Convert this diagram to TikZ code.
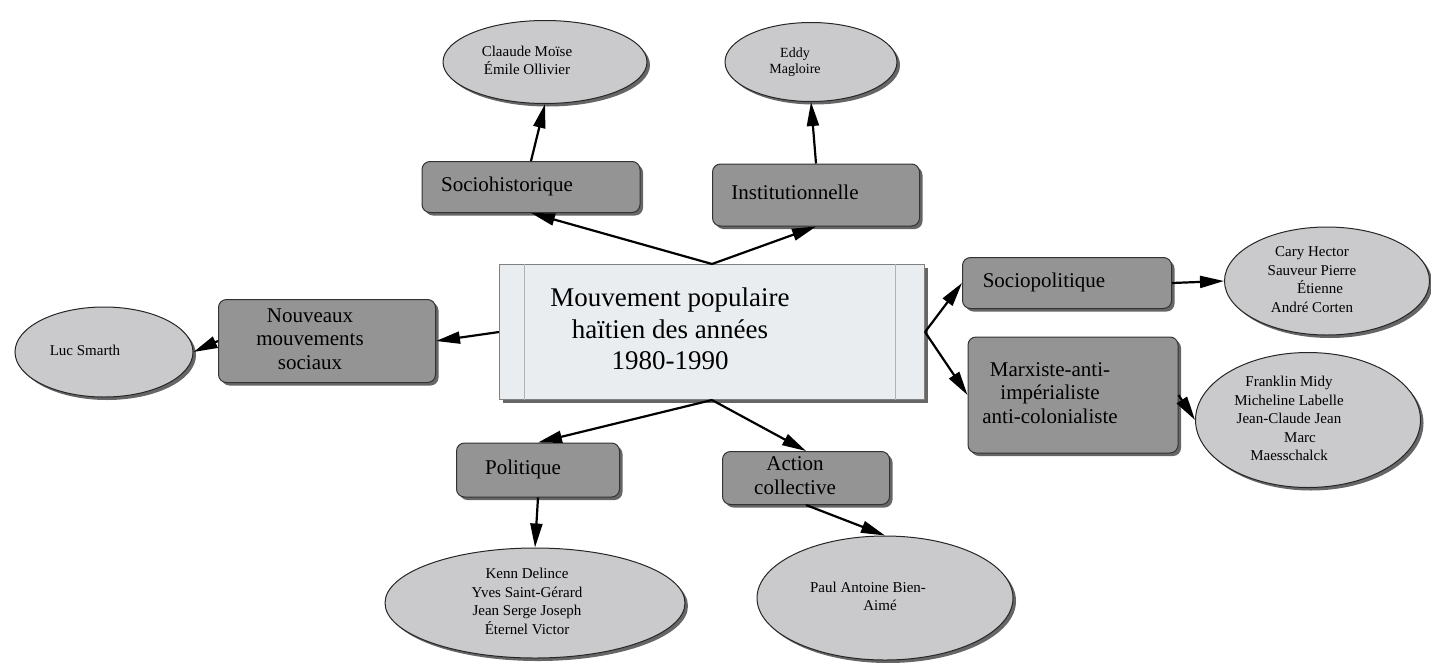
\documentclass[tikz,border=0pt]{standalone}
\usepackage{fontspec}
\setmainfont{Liberation Serif}
\usetikzlibrary{shapes.geometric,shadows,arrows.meta,calc}
\definecolor{boxgray}{RGB}{148,148,148}
\definecolor{ellgray}{RGB}{202,202,204}
\definecolor{centerfill}{RGB}{233,237,240}
\newcommand{\txl}[2]{\begin{tabular}{@{}c@{}}#2\end{tabular}\hspace*{#1}}
\begin{document}
\begin{tikzpicture}[x=1pt,y=-1pt,
  shad/.style={drop shadow={shadow xshift=3pt,shadow yshift=-3pt,fill=black!60,opacity=1}},
  catbox/.style={rectangle,rounded corners=8pt,draw=black!80,line width=1pt,fill=boxgray,shad,inner sep=0pt,font=\fontsize{21}{23.5}\selectfont},
  person/.style={ellipse,draw=black!85,line width=1pt,fill=ellgray,shad,inner sep=0pt,font=\fontsize{15}{18.5}\selectfont},
  mainbox/.style={rectangle,draw=black!50,line width=1pt,fill=centerfill,shad,inner sep=0pt,font=\fontsize{27}{31.5}\selectfont},
  arr/.style={-{Triangle[length=24pt,width=12pt]},line width=2.2pt,black}]
\useasboundingbox (0,0) rectangle (1431,662);

% central node
\node[mainbox,minimum width=425pt,minimum height=135pt] (C) at (712,332)
  {\txl{84pt}{Mouvement populaire\\haïtien des années\\1980-1990}};
\draw[black!30,line width=1pt] ([xshift=25pt]C.north west) -- ([xshift=25pt]C.south west);
\draw[black!30,line width=1pt] ([xshift=-30pt]C.north east) -- ([xshift=-30pt]C.south east);

% category boxes
\node[catbox,minimum width=218pt,minimum height=51pt] (sh) at (531,187) {\txl{48pt}{Sociohistorique}};
\node[catbox,minimum width=207pt,minimum height=62pt] (inst) at (816,195) {\txl{42pt}{Institutionnelle}};
\node[catbox,minimum width=217pt,minimum height=83pt] (nou) at (327,341)
  {\txl{34pt}{Nouveaux\\mouvements\\sociaux}};
\node[catbox,minimum width=209pt,minimum height=51pt] (soc) at (1067,283) {\txl{46pt}{Sociopolitique}};
\node[catbox,minimum width=210pt,minimum height=116pt] (mar) at (1073,395)
  {\txl{46pt}{Marxiste-anti-\\impérialiste\\anti-colonialiste}};
\node[catbox,minimum width=163pt,minimum height=54pt] (pol) at (538,470) {\txl{30pt}{Politique}};
\node[catbox,minimum width=167pt,minimum height=53pt] (act) at (806,478)
  {\txl{22pt}{Action\\collective}};

% person ellipses
\node[person,minimum width=204pt,minimum height=83pt] (cm) at (545,62)
  {\txl{36pt}{Claaude Moïse\\Émile Ollivier}};
\node[person,minimum width=172pt,minimum height=79pt,font=\fontsize{14}{16.5}\selectfont] (em) at (811,62)
  {\txl{32pt}{Eddy\\Magloire}};
\node[person,minimum width=178pt,minimum height=90pt] (ls) at (104,352) {\txl{38pt}{Luc Smarth}};
\node[person,minimum width=205pt,minimum height=108pt] (ch) at (1327,281)
  {\txl{30pt}{Cary Hector\\Sauveur Pierre\\\hspace*{16pt}Étienne\\André Corten}};
\node[person,minimum width=225pt,minimum height=135pt] (fm) at (1308,420)
  {\txl{38pt}{Franklin Midy\\Micheline Labelle\\Jean-Claude Jean\\\hspace*{22pt}Marc\\Maesschalck}};
\node[person,minimum width=300pt,minimum height=110pt] (kd) at (535,603)
  {\txl{16pt}{Kenn Delince\\Yves Saint-Gérard\\Jean Serge Joseph\\Éternel Victor}};
\node[person,minimum width=256pt,minimum height=124pt] (pa) at (885,598)
  {\txl{34pt}{Paul Antoine Bien-\\\hspace*{24pt}Aimé}};

% connectors
\draw[arr] (C.north) -- (sh.south);
\draw[arr] (C.north) -- (inst.south);
\draw[arr] (sh.north) -- (cm.south);
\draw[arr] (inst.north) -- (em.south);
\draw[arr] (C.west) -- (nou.east);
\draw[arr] (nou.west) -- (ls.east);
\draw[arr] (C.east) -- (soc.west);
\draw[arr] (C.east) -- (mar.west);
\draw[arr] (soc.east) -- (ch.west);
\draw[arr] (mar.east) -- (fm.west);
\draw[arr] (C.south) -- (pol.north);
\draw[arr] (C.south) -- (act.north);
\draw[arr] (pol.south) -- (kd.north);
\draw[arr] (act.south) -- (pa.north);
\end{tikzpicture}
\end{document}
